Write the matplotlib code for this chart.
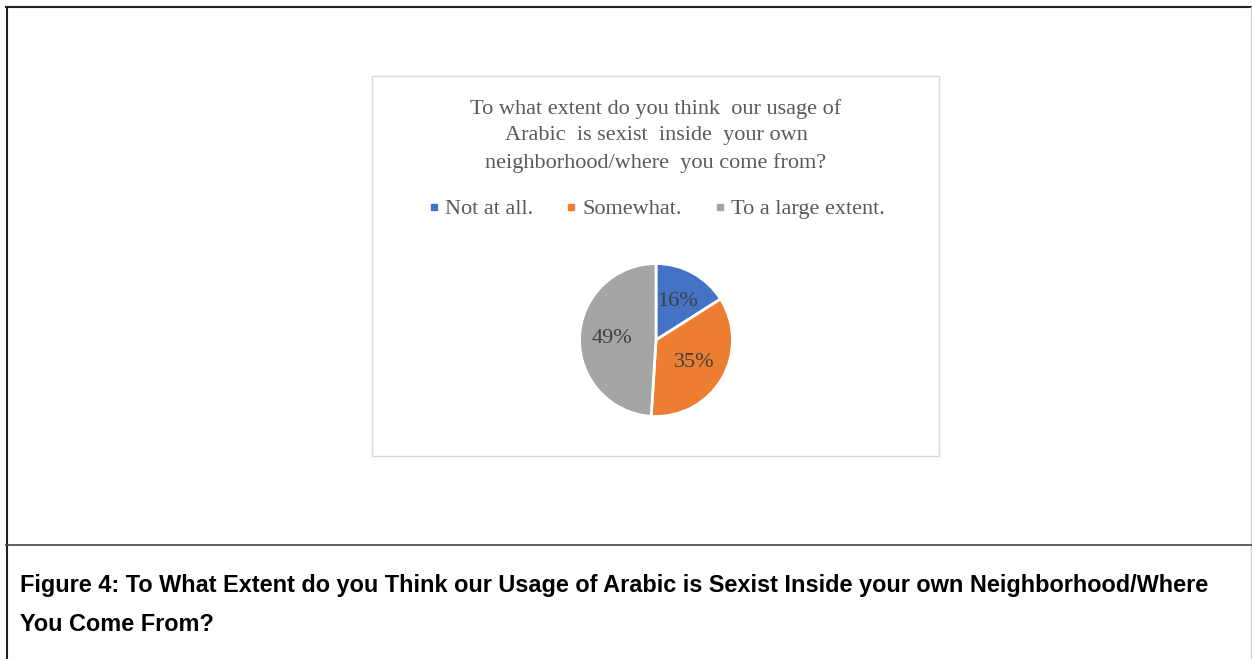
import matplotlib.pyplot as plt
from matplotlib.lines import Line2D
from matplotlib.patches import Rectangle

categories = ["Not at all.", "Somewhat.", "To a large extent."]
shares = [16, 35, 49]
colors = ["#4472C4", "#ED7D31", "#A5A5A5"]

title = ("To what extent do you think  our usage of\n"
         "Arabic  is sexist  inside  your own\n"
         "neighborhood/where  you come from?")
caption = ("Figure 4: To What Extent do you Think our Usage of Arabic is Sexist "
           "Inside your own Neighborhood/Where\nYou Come From?")

W, H = 1252, 659
fig = plt.figure(figsize=(W / 100, H / 100), dpi=100)
fig.patch.set_facecolor("white")

def fx(px):
    return px / W

def fy(py):
    return 1 - py / H

# outer frame (document table)
fig.add_artist(Line2D([fx(6), fx(1251)], [fy(7), fy(7)], color="#222222", lw=1.5))
fig.add_artist(Line2D([fx(6.5), fx(6.5)], [fy(7), 0], color="#222222", lw=1.5))
fig.add_artist(Line2D([fx(1251), fx(1251)], [fy(7), 0], color="#cccccc", lw=1))
fig.add_artist(Line2D([fx(6), fx(1252)], [fy(545), fy(545)], color="#444444", lw=1.2))

# chart box
fig.add_artist(Rectangle((fx(372), fy(456)), fx(939) - fx(372), fy(76) - fy(456),
                         fill=False, edgecolor="#d9d9d9", lw=1))

serif = ["Liberation Serif", "DejaVu Serif"]
fig.text(fx(656), fy(136), title, ha="center", va="center", fontsize=16,
         color="#595959", family=serif, linespacing=1.53)

# pie
r = 78
ax = fig.add_axes([fx(656 - r), fy(340 + r), 2 * r / W, 2 * r / H])
wedges, texts, autotexts = ax.pie(
    shares, colors=colors, startangle=90, counterclock=False,
    autopct="%d%%", pctdistance=0.58,
    wedgeprops=dict(edgecolor="white", linewidth=2),
    textprops=dict(fontsize=16, color="#404040", family=serif),
)
ax.set_aspect("equal")
ax.set_xlim(-1.02, 1.02)
ax.set_ylim(-1.02, 1.02)
ax.axis("off")

handles = [Line2D([], [], marker="s", linestyle="", markersize=4.5,
                  markerfacecolor=c, markeredgecolor=c) for c in colors]
fig.legend(handles, categories, loc="center", bbox_to_anchor=(fx(655), fy(209)),
           ncol=3, frameon=False, handletextpad=0.1, columnspacing=1.3,
           handlelength=0.8,
           prop=dict(family=serif, size=16), labelcolor="#595959")

fig.text(fx(20), fy(605), caption, ha="left", va="center", fontsize=16.9,
         fontweight="bold", color="black",
         family=["Liberation Sans", "DejaVu Sans"], linespacing=1.85)

fig.savefig("out.png", dpi=100)
